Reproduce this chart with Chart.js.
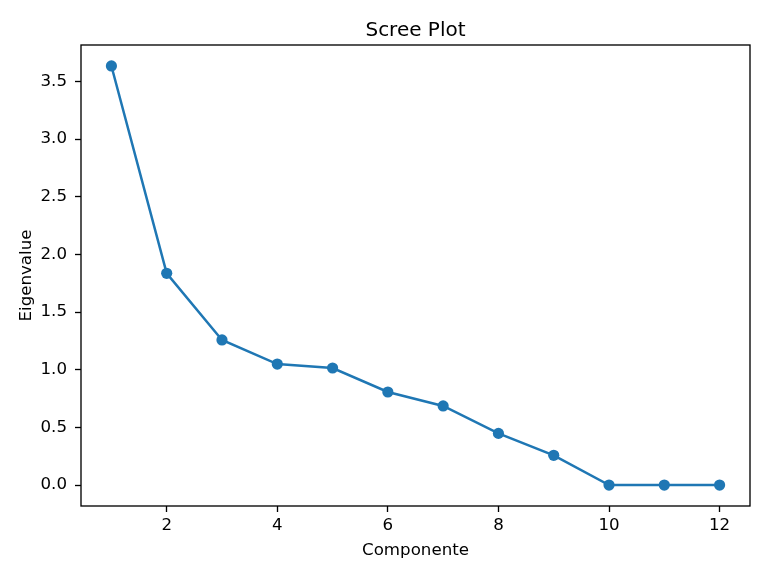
<!DOCTYPE html>
<html>
<head>
<meta charset="utf-8">
<script src="https://cdn.jsdelivr.net/npm/chart.js@4"></script>
<style>
html,body{margin:0;padding:0;background:#fff;}
canvas{display:block;}
</style>
</head>
<body>
<canvas id="c" width="768" height="576"></canvas>
<script>
const components = [1, 2, 3, 4, 5, 6, 7, 8, 9, 10, 11, 12];
const eigenvalues = [3.634, 1.836, 1.258, 1.049, 1.015, 0.807, 0.686, 0.448, 0.258, 0.0, 0.0, 0.0];
const xTicks = [2, 4, 6, 8, 10, 12];
const yTicks = [0.0, 0.5, 1.0, 1.5, 2.0, 2.5, 3.0, 3.5];
const titleText = 'Scree Plot';
const xLabel = 'Componente';
const yLabel = 'Eigenvalue';

const FONT = "'DejaVu Sans', sans-serif";
const TICK_SIZE = 16.67;

const framePlugin = {
  id: 'frame',
  afterDraw(chart) {
    const {ctx, chartArea: a} = chart;
    ctx.save();
    ctx.strokeStyle = '#000';
    ctx.lineWidth = 1.33;
    ctx.strokeRect(a.left, a.top, a.right - a.left, a.bottom - a.top);
    ctx.fillStyle = '#000';
    ctx.textAlign = 'center';
    ctx.textBaseline = 'alphabetic';
    const cx = (a.left + a.right) / 2;
    const cy = (a.top + a.bottom) / 2;
    ctx.font = "20px " + FONT;
    ctx.fillText(titleText, cx, a.top - 9.5);
    ctx.font = TICK_SIZE + "px " + FONT;
    ctx.fillText(xLabel, cx, 555);
    ctx.translate(31, cy);
    ctx.rotate(-Math.PI / 2);
    ctx.fillText(yLabel, 0, 0);
    ctx.restore();
  }
};

new Chart(document.getElementById('c'), {
  type: 'line',
  data: {
    datasets: [{
      data: components.map((c, i) => ({x: c, y: eigenvalues[i]})),
      borderColor: '#1f77b4',
      backgroundColor: '#1f77b4',
      borderWidth: 2.5,
      pointRadius: 5.6,
      pointHoverRadius: 5.6,
      pointBorderWidth: 0,
      tension: 0,
      fill: false
    }]
  },
  options: {
    responsive: false,
    animation: false,
    devicePixelRatio: 1,
    layout: {padding: {top: 45, right: 18, left: 0, bottom: 0}},
    plugins: {legend: {display: false}, tooltip: {enabled: false}, title: {display: false}},
    scales: {
      x: {
        type: 'linear',
        min: 0.45,
        max: 12.55,
        afterFit(s) { s.height = 70; },
        afterBuildTicks(s) { s.ticks = xTicks.map(v => ({value: v})); },
        grid: {drawOnChartArea: false, drawTicks: true, tickLength: 6, tickColor: '#000', tickWidth: 1.33},
        border: {display: false},
        ticks: {color: '#000', font: {family: FONT, size: TICK_SIZE}, padding: 4, maxRotation: 0, autoSkip: false,
          callback: v => String(v)}
      },
      y: {
        type: 'linear',
        min: -0.1817,
        max: 3.8157,
        afterFit(s) { s.width = 81; },
        afterBuildTicks(s) { s.ticks = yTicks.map(v => ({value: v})); },
        grid: {drawOnChartArea: false, drawTicks: true, tickLength: 6, tickColor: '#000', tickWidth: 1.33},
        border: {display: false},
        ticks: {color: '#000', font: {family: FONT, size: TICK_SIZE}, padding: 8, autoSkip: false,
          callback: v => Number(v).toFixed(1)}
      }
    }
  },
  plugins: [framePlugin]
});
</script>
</body>
</html>
